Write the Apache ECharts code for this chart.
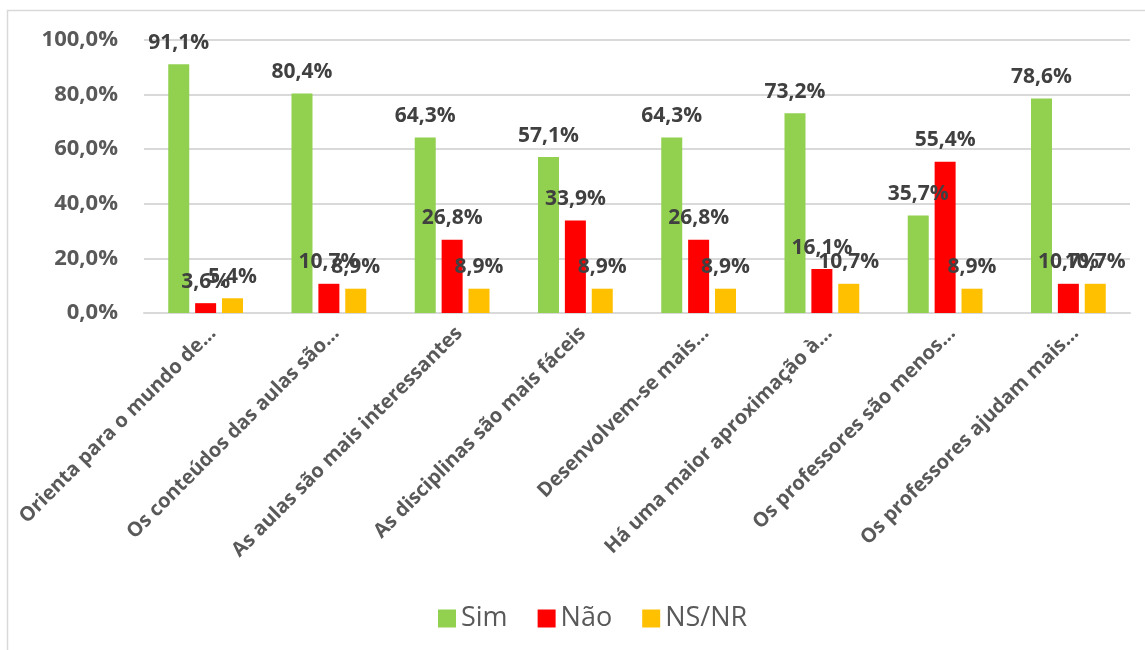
<!DOCTYPE html>
<html>
<head>
<meta charset="utf-8">
<script src="https://cdn.jsdelivr.net/npm/echarts@6/dist/echarts.min.js"></script>
<style>
	html, body { margin: 0; padding: 0; background: #fff; }
	#chart { width: 1145px; height: 650px; }
</style>
</head>
<body>
<div id="chart"></div>
<script>
	// categorias e valores (%)
	const categories = [
		'Orienta para o mundo de…',
		'Os conteúdos das aulas são…',
		'As aulas são mais interessantes',
		'As disciplinas são mais fáceis',
		'Desenvolvem-se mais…',
		'Há uma maior aproximação à…',
		'Os professores são menos…',
		'Os professores ajudam mais…'
	];
	const seriesNames = ['Sim', 'Não', 'NS/NR'];
	const sim = [91.1, 80.4, 64.3, 57.1, 64.3, 73.2, 35.7, 78.6];
	const nao = [3.6, 10.7, 26.8, 33.9, 26.8, 16.1, 55.4, 10.7];
	const nsnr = [5.4, 8.9, 8.9, 8.9, 8.9, 10.7, 8.9, 10.7];
	const colors = ['#92D050', '#FF0000', '#FFC000'];

	const font = '"Open Sans", "Noto Sans", sans-serif';
	const pct = v => v.toFixed(1).replace('.', ',') + '%';

	function barSeries(name, data, color) {
		return {
			name: name,
			type: 'bar',
			data: data,
			barWidth: 21,
			barGap: '28%',
			itemStyle: { color: color },
			label: {
				show: true,
				position: 'top',
				distance: 11,
				formatter: p => pct(p.value),
				color: '#404040',
				fontFamily: font,
				fontWeight: 'bold',
				fontSize: 21
			}
		};
	}

	let chart = echarts.init(document.getElementById('chart'));
	chart.setOption({
		animation: false,
		textStyle: { fontFamily: font },
		graphic: [{
			type: 'rect',
			shape: { x: 7.5, y: 10.5, width: 1200, height: 700 },
			style: { fill: 'none', stroke: '#D9D9D9', lineWidth: 1.5 },
			silent: true
		}],
		legend: {
			data: seriesNames,
			left: 433,
			top: 600,
			itemWidth: 18,
			itemHeight: 18,
			itemGap: 30,
			icon: 'rect',
			textStyle: { color: '#595959', fontSize: 27, fontFamily: font }
		},
		grid: {
			left: 144,
			right: 15,
			top: 40,
			bottom: 337
		},
		xAxis: {
			type: 'category',
			data: categories,
			axisLine: { lineStyle: { color: '#D9D9D9', width: 2 } },
			axisTick: { show: false },
			axisLabel: {
				rotate: 45,
				interval: 0,
				margin: 10,
				verticalAlign: 'top',
				color: '#595959',
				fontWeight: 'bold',
				fontSize: 20,
				fontFamily: font
			}
		},
		yAxis: {
			type: 'value',
			min: 0,
			max: 100,
			interval: 20,
			axisLine: { show: false },
			axisTick: { show: false },
			splitLine: { lineStyle: { color: '#D9D9D9', width: 2 } },
			axisLabel: {
				margin: 26,
				formatter: v => pct(v),
				color: '#595959',
				fontWeight: 'bold',
				fontSize: 22,
				fontFamily: font
			}
		},
		series: [
			barSeries(seriesNames[0], sim, colors[0]),
			barSeries(seriesNames[1], nao, colors[1]),
			barSeries(seriesNames[2], nsnr, colors[2])
		]
	});
</script>
</body>
</html>
